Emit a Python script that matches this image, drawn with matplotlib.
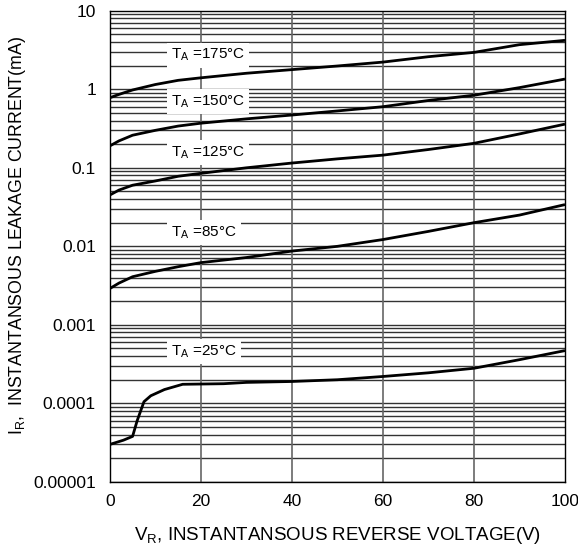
import matplotlib
matplotlib.use("Agg")
import matplotlib.pyplot as plt
import numpy as np

plt.rcParams['font.family'] = ['Liberation Sans', 'DejaVu Sans']

v_hi = [0, 2, 5, 10, 15, 20, 30, 40, 50, 60, 70, 80, 90, 100]
i_175 = [0.78, 0.86, 0.98, 1.15, 1.3, 1.4, 1.6, 1.78, 1.98, 2.22, 2.6, 2.95, 3.7, 4.2]
i_150 = [0.19, 0.22, 0.26, 0.30, 0.34, 0.37, 0.42, 0.47, 0.53, 0.6, 0.72, 0.84, 1.05, 1.35]
i_125 = [0.045, 0.052, 0.06, 0.068, 0.078, 0.085, 0.1, 0.115, 0.13, 0.145, 0.171, 0.205, 0.27, 0.36]
i_85 = [0.0029, 0.0034, 0.0041, 0.0048, 0.0055, 0.0062, 0.0072, 0.0087, 0.01, 0.0122, 0.0155, 0.02, 0.025, 0.034]
v_25 = [0, 3, 5, 6, 7.5, 9, 12, 16, 25, 30, 40, 50, 60, 70, 80, 90, 100]
i_25 = [0.00003, 0.000034, 0.000038, 0.00006, 0.000105, 0.000125, 0.00015, 0.000175,
        0.000178, 0.000185, 0.00019, 0.0002, 0.00022, 0.000245, 0.00028, 0.00036, 0.00047]

labels = ["T$_{\\mathregular{A}}$ =175°C", "T$_{\\mathregular{A}}$ =150°C", "T$_{\\mathregular{A}}$ =125°C",
          "T$_{\\mathregular{A}}$ =85°C", "T$_{\\mathregular{A}}$ =25°C"]
label_y = [2.73, 0.70, 0.158, 0.0148, 0.00046]
label_x = 13.5

x_ticks = [0, 20, 40, 60, 80, 100]
y_ticks = [1e-5, 1e-4, 1e-3, 1e-2, 1e-1, 1, 10]
y_ticklabels = ["0.00001", "0.0001", "0.001", "0.01", "0.1", "1", "10"]

fig = plt.figure(figsize=(5.78, 5.52), dpi=100)
ax = fig.add_axes([0.190, 0.127, 0.7875, 0.8535])
ax.set_yscale('log')
ax.set_xlim(0, 100)
ax.set_ylim(1e-5, 10)

for dec in range(-5, 1):
    for m in range(1, 10):
        ax.axhline(m * 10.0 ** dec, color='#333333', lw=1.0, zorder=1)
for xv in x_ticks[1:-1]:
    ax.axvline(xv, color='#666666', lw=1.2, zorder=1)

for v, i in [(v_hi, i_175), (v_hi, i_150), (v_hi, i_125), (v_hi, i_85), (v_25, i_25)]:
    ax.plot(v, i, color='black', lw=2.0, zorder=3, solid_capstyle='butt')

for lab, ly in zip(labels, label_y):
    ax.text(label_x, ly, lab, fontsize=11, va='center', ha='left', zorder=4,
            bbox=dict(facecolor='white', edgecolor='none', pad=3))

ax.set_xticks(x_ticks)
ax.set_xticklabels([str(t) for t in x_ticks], fontsize=12.5)
ax.set_yticks(y_ticks)
ax.set_yticklabels(y_ticklabels, fontsize=12.5)
ax.yaxis.set_minor_locator(matplotlib.ticker.NullLocator())
ax.tick_params(axis='y', length=0, pad=10)
ax.tick_params(axis='x', length=0, pad=9)
for s in ax.spines.values():
    s.set_color('black')
    s.set_linewidth(1.0)

ax.set_xlabel("V$_{\\mathregular{R}}$, INSTANTANSOUS REVERSE VOLTAGE(V)", fontsize=13.5, labelpad=11)
ylab = ax.set_ylabel("I$_{\\mathregular{R}}$,  INSTANTANSOUS LEAKAGE CURRENT(mA)", fontsize=12.8,
                     va='center')
ax.yaxis.set_label_coords(-0.202, 0.524)

fig.savefig("out.png", dpi=100)
